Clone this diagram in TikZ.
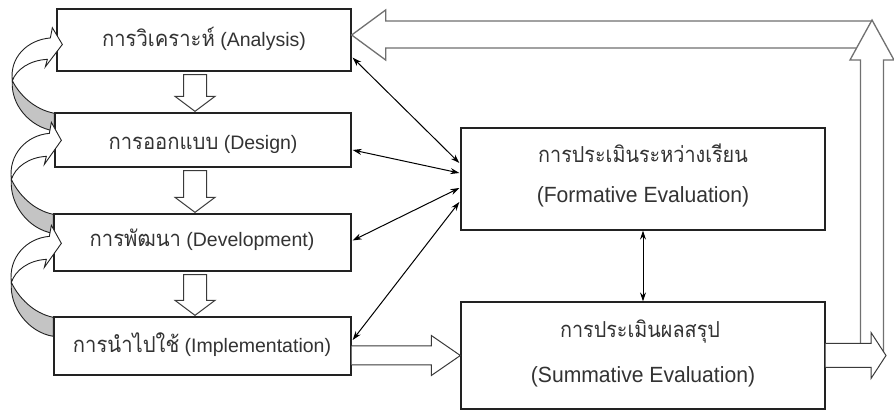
\documentclass[tikz,border=0pt]{standalone}
\usepackage{fontspec}
\setmainfont{Liberation Sans}
\newfontfamily\latL{Liberation Sans}
\newfontfamily\thaiL[Script=Thai,FakeStretch=0.92]{Loma}
\newfontfamily\latR[FakeStretch=0.96]{Liberation Sans}
\newfontfamily\thaiR[Script=Thai,FakeStretch=0.9]{Loma}
\usetikzlibrary{arrows.meta,calc}
\definecolor{boxline}{HTML}{222222}
\definecolor{txtcol}{HTML}{333333}
\definecolor{bigline}{HTML}{707070}
\definecolor{backgray}{HTML}{C4C4C4}
\definecolor{blkline}{HTML}{3A3A3A}
\newcommand\blockdown[2]{%
  \path ($(#1.south -| axis)+(0,3)$) coordinate (bd-s)
        ($(#2.north -| axis)+(0,-1)$) coordinate (bd-t)
        ($(bd-t)+(0,-15)$) coordinate (bd-h);
  \draw[blk] ($(bd-s)+(-11.5,0)$) -- ($(bd-s)+(11.5,0)$) -- ($(bd-h)+(11.5,0)$)
     -- ($(bd-h)+(20,0)$) -- (bd-t) -- ($(bd-h)+(-20,0)$) -- ($(bd-h)+(-11.5,0)$) -- cycle;}
\newcommand\curvarr[2]{%
  \begin{scope}[shift={(#1.north west)},yscale=#2]
    \filldraw[curveline,fill=backgray] (-42,-34) .. controls (-44,-9) and (-25,16) .. (0,20)
       -- (0,1) .. controls (-20,-3) and (-35,-19) .. (-42,-34) -- cycle;
    \filldraw[curveline,fill=white] (-42,-34) .. controls (-45,-59) and (-27,-78) .. (-4,-80)
       -- (-2,-91) -- (8,-73) -- (-9,-49) -- (-7,-57)
       .. controls (-25,-56) and (-38,-46) .. (-42,-34) -- cycle;
  \end{scope}}
\begin{document}
\begin{tikzpicture}[x=1pt,y=-1pt,
  box/.style={draw=boxline,line width=1.3pt,fill=white,inner sep=0pt},
  ltxt/.style={anchor=base,inner sep=0pt,text=txtcol,font=\latL\fontsize{19.5}{21}\selectfont},
  rtxt/.style={anchor=base,inner sep=0pt,text=txtcol,font=\latR\fontsize{22}{24}\selectfont},
  blk/.style={draw=blkline,line width=1pt,fill=white,line join=miter},
  bigarr/.style={draw=bigline,line width=1.3pt,fill=white,line join=miter},
  curveline/.style={draw=boxline,line width=0.9pt,line join=miter},
  thinarr/.style={{Stealth[length=9pt,width=6pt]}-{Stealth[length=9pt,width=6pt]},line width=1pt,draw=black}]
\useasboundingbox (0,0) rectangle (894,411);
\fill[white] (0,0) rectangle (894,411);
% boxes
\node[box,minimum width=294pt,minimum height=62pt] (ana) at (204,40) {};
\node[box,minimum width=296pt,minimum height=54pt] (des) at (203,140) {};
\node[box,minimum width=297pt,minimum height=57pt] (dev) at (202.5,242.5) {};
\node[box,minimum width=297pt,minimum height=58pt] (imp) at (202.5,346) {};
\node[box,minimum width=364pt,minimum height=102pt] (form) at (643,179) {};
\node[box,minimum width=364pt,minimum height=107pt] (summ) at (643,355.5) {};
% texts
\node[ltxt] (anaT) at (204,47) {{\thaiL\fontsize{22}{24}\selectfont การวิเคราะห์} (Analysis)};
\node[ltxt] (desT) at (203,150) {{\thaiL\fontsize{22}{24}\selectfont การออกแบบ} (Design)};
\node[ltxt] (devT) at (202,247) {{\thaiL\fontsize{22}{24}\selectfont การพัฒนา} (Development)};
\node[ltxt] (impT) at (202,353) {{\thaiL\fontsize{22}{24}\selectfont การนำไปใช้} (Implementation)};
\node[rtxt] (formT) at (643,163) {\thaiR การประเมินระหว่างเรียน};
\node[rtxt] (formL) at (643,203) {(Formative Evaluation)};
\node[rtxt] (summT) at (640,338) {\thaiR การประเมินผลสรุป};
\node[rtxt] (summL) at (643,383) {(Summative Evaluation)};
% down block arrows
\coordinate (axis) at (195,0);
\blockdown{ana}{des}
\blockdown{des}{dev}
\blockdown{dev}{imp}
% curved arrows on the left
\curvarr{des}{0.93}
\curvarr{dev}{1}
\curvarr{imp}{1}
% implementation -> summative
\draw[blk] ($(imp.east |- summ.west)+(0,-9.5)$) -- ($(summ.west)+(-29,-9.5)$) -- ($(summ.west)+(-29,-20)$)
   -- (summ.west) -- ($(summ.west)+(-29,20)$) -- ($(summ.west)+(-29,9.5)$) -- ($(imp.east |- summ.west)+(0,9.5)$);
% feedback arrow (right, up, back to analysis)
\coordinate (vtip) at (872,20);
\coordinate (htip) at ($(ana.east)+(0,-5)$);
\draw[bigarr] (htip) -- ++(34,-25) -- ++(0,11) -- ($(vtip |- htip)+(0,-14)$) -- ($(vtip |- htip)+(0,13)$)
   -- ($(htip)+(34,13)$) -- ($(htip)+(34,25)$) -- cycle;
\draw[bigarr] (vtip) -- ++(22,40) -- ++(-10.5,0) -- ++(0,295) -- ++(-23,0) -- ++(0,-295) -- ++(-10.5,0) -- cycle;
\coordinate (out) at (886,355.5);
\draw[blk] ($(summ.east)+(0,-12)$) -- ($(out)+(-15,-12)$) -- ($(out)+(-15,-23)$) -- (out)
   -- ($(out)+(-15,23)$) -- ($(out)+(-15,12)$) -- ($(summ.east)+(0,12)$);
% thin double arrows
\draw[thinarr] ($(ana.south east)+(1,-14)$) -- ($(form.west)+(-1,-16)$);
\draw[thinarr] ($(des.east)+(1,10)$) -- ($(form.west)+(-1,-6)$);
\draw[thinarr] ($(dev.east)+(1,-2)$) -- ($(form.west)+(-1,9)$);
\draw[thinarr] ($(imp.east)+(1,-6)$) -- ($(form.west)+(-1,23)$);
\draw[thinarr] (form.south) -- (summ.north);
\end{tikzpicture}
\end{document}
